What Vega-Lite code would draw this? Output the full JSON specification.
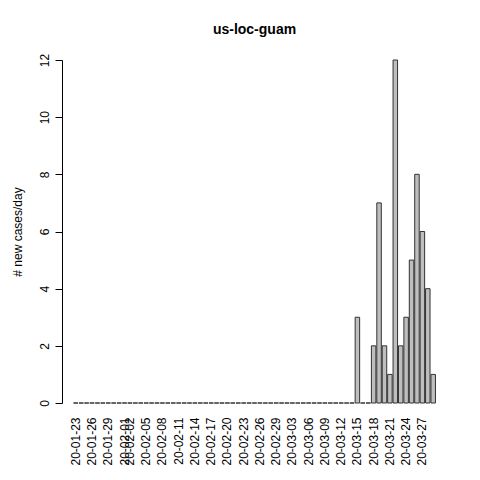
{
  "$schema": "https://vega.github.io/schema/vega-lite/v6.json",
  "width": 363,
  "height": 343,
  "autosize": {"type": "none"},
  "padding": {"left": 73, "top": 60, "right": 44, "bottom": 77},
  "background": "white",
  "title": {"text": "us-loc-guam", "font": "Liberation Sans", "fontSize": 14, "fontWeight": "bold", "offset": 16},
  "config": {"view": {"stroke": null}},
  "data": {"values": [
    {"d": "20-01-23", "n": 0}, {"d": "20-01-24", "n": 0}, {"d": "20-01-25", "n": 0}, {"d": "20-01-26", "n": 0}, {"d": "20-01-27", "n": 0}, {"d": "20-01-28", "n": 0}, {"d": "20-01-29", "n": 0}, {"d": "20-01-30", "n": 0}, {"d": "20-01-31", "n": 0},
    {"d": "20-02-01", "n": 0}, {"d": "20-02-02", "n": 0}, {"d": "20-02-03", "n": 0}, {"d": "20-02-04", "n": 0}, {"d": "20-02-05", "n": 0}, {"d": "20-02-06", "n": 0}, {"d": "20-02-07", "n": 0}, {"d": "20-02-08", "n": 0}, {"d": "20-02-09", "n": 0}, {"d": "20-02-10", "n": 0},
    {"d": "20-02-11", "n": 0}, {"d": "20-02-12", "n": 0}, {"d": "20-02-13", "n": 0}, {"d": "20-02-14", "n": 0}, {"d": "20-02-15", "n": 0}, {"d": "20-02-16", "n": 0}, {"d": "20-02-17", "n": 0}, {"d": "20-02-18", "n": 0}, {"d": "20-02-19", "n": 0}, {"d": "20-02-20", "n": 0},
    {"d": "20-02-21", "n": 0}, {"d": "20-02-22", "n": 0}, {"d": "20-02-23", "n": 0}, {"d": "20-02-24", "n": 0}, {"d": "20-02-25", "n": 0}, {"d": "20-02-26", "n": 0}, {"d": "20-02-27", "n": 0}, {"d": "20-02-28", "n": 0}, {"d": "20-02-29", "n": 0},
    {"d": "20-03-01", "n": 0}, {"d": "20-03-02", "n": 0}, {"d": "20-03-03", "n": 0}, {"d": "20-03-04", "n": 0}, {"d": "20-03-05", "n": 0}, {"d": "20-03-06", "n": 0}, {"d": "20-03-07", "n": 0}, {"d": "20-03-08", "n": 0}, {"d": "20-03-09", "n": 0}, {"d": "20-03-10", "n": 0},
    {"d": "20-03-11", "n": 0}, {"d": "20-03-12", "n": 0}, {"d": "20-03-13", "n": 0}, {"d": "20-03-14", "n": 0}, {"d": "20-03-15", "n": 3}, {"d": "20-03-16", "n": 0}, {"d": "20-03-17", "n": 0}, {"d": "20-03-18", "n": 2}, {"d": "20-03-19", "n": 7}, {"d": "20-03-20", "n": 2},
    {"d": "20-03-21", "n": 1}, {"d": "20-03-22", "n": 12}, {"d": "20-03-23", "n": 2}, {"d": "20-03-24", "n": 3}, {"d": "20-03-25", "n": 5}, {"d": "20-03-26", "n": 8}, {"d": "20-03-27", "n": 6}, {"d": "20-03-28", "n": 4}, {"d": "20-03-29", "n": 1}
  ]},
  "mark": {"type": "bar", "fill": "#bebebe", "stroke": "#333333", "strokeWidth": 1},
  "encoding": {
    "x": {
      "field": "d", "type": "ordinal", "sort": null, "title": null,
      "scale": {"paddingInner": 0.17, "paddingOuter": 0.1},
      "axis": {
        "values": ["20-01-23","20-01-26","20-01-29","20-02-01","20-02-02","20-02-05","20-02-08","20-02-11","20-02-14","20-02-17","20-02-20","20-02-23","20-02-26","20-02-29","20-03-03","20-03-06","20-03-09","20-03-12","20-03-15","20-03-18","20-03-21","20-03-24","20-03-27"],
        "labelAngle": -90, "labelFont": "Liberation Sans", "labelFontSize": 12, "labelColor": "black",
        "domain": false, "ticks": false, "labelPadding": 14, "labelAlign": "right", "labelBaseline": "middle"
      }
    },
    "y": {
      "field": "n", "type": "quantitative", "title": "# new cases/day",
      "scale": {"domain": [0, 12], "nice": false},
      "axis": {
        "values": [0, 2, 4, 6, 8, 10, 12], "grid": false, "offset": 11,
        "labelAngle": -90, "labelAlign": "center", "labelBaseline": "bottom", "labelPadding": 4,
        "labelFont": "Liberation Sans", "labelFontSize": 12, "labelColor": "black",
        "titleFont": "Liberation Sans", "titleFontSize": 12, "titleFontWeight": "normal", "titleColor": "black", "titlePadding": 14,
        "domainColor": "black", "tickColor": "black", "tickSize": 7
      }
    }
  }
}
